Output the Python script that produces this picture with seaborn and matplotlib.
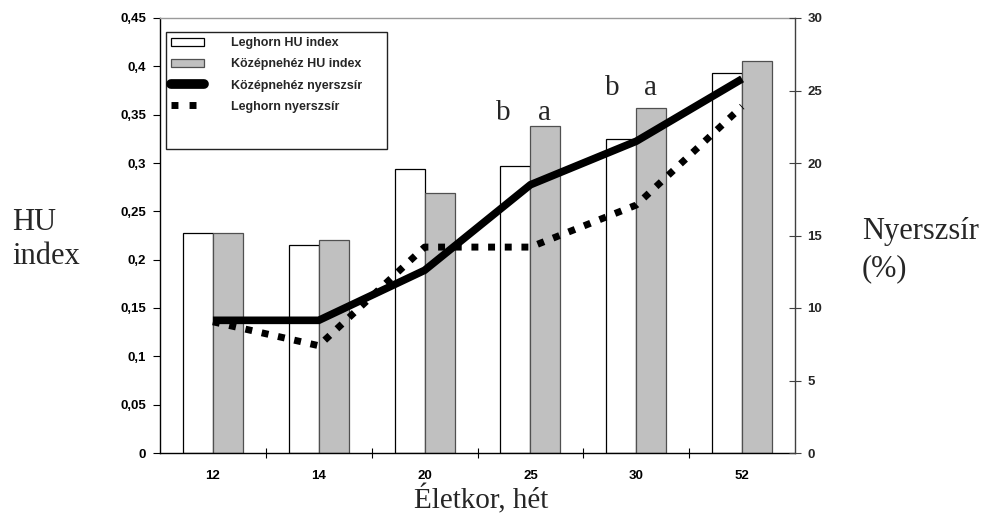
import numpy as np
import pandas as pd
import matplotlib
matplotlib.use("Agg")
import matplotlib.pyplot as plt
from matplotlib.patches import Patch, Rectangle
from matplotlib.lines import Line2D
import seaborn as sns

# Age in weeks
het = ["12", "14", "20", "25", "30", "52"]

# HU index per breed
leghorn_hu = [0.228, 0.215, 0.294, 0.297, 0.325, 0.393]
kozep_hu = [0.228, 0.220, 0.269, 0.338, 0.357, 0.405]

# Crude fat (%) per breed
kozep_zsir = [9.15, 9.15, 12.6, 18.5, 21.5, 25.8]
leghorn_zsir = [9.05, 7.4, 14.2, 14.2, 17.1, 23.9]

# Significance letters: (category index, offset, y on HU axis, letter)
betuk = [(3, -0.255, 0.352, "b"), (3, 0.13, 0.352, "a"),
         (4, -0.227, 0.378, "b"), (4, 0.13, 0.378, "a")]

sns.set_theme(style="white")
plt.rcParams["font.family"] = ["Liberation Sans", "DejaVu Sans"]

W, H = 986, 518
fig = plt.figure(figsize=(W / 100, H / 100), dpi=100)
fig.patch.set_facecolor("white")


def px(x, y):
    return (x / W, 1 - y / H)


ax = fig.add_axes([160 / W, 1 - 453 / H, 635 / W, 435 / H])
ax.set_facecolor("white")

df = pd.DataFrame({
    "het": het * 2,
    "hu": leghorn_hu + kozep_hu,
    "fajta": ["Leghorn HU index"] * len(het) + ["Középnehéz HU index"] * len(het),
})
sns.barplot(data=df, x="het", y="hu", hue="fajta",
            palette={"Leghorn HU index": "white", "Középnehéz HU index": "#C0C0C0"},
            width=0.567, ax=ax, legend=False, saturation=1)
for bar in ax.containers[0]:
    bar.set_edgecolor("black")
    bar.set_linewidth(0.9)
for bar in ax.containers[1]:
    bar.set_edgecolor("#505050")
    bar.set_linewidth(0.9)

ax.set_xlim(-0.5, 5.5)
ax.set_ylim(0, 0.45)
yt = np.round(np.arange(0, 0.451, 0.05), 2)
ax.set_yticks(yt)
ax.set_yticklabels(["0" if v == 0 else f"{v:g}".replace(".", ",") for v in yt])
ax.set_xlabel("")
ax.set_ylabel("")
ax.tick_params(axis="y", which="major", direction="out", length=5, width=0.8,
               color="black", pad=5, labelsize=9.5, left=True)
ax.tick_params(axis="x", which="major", length=0, pad=12, labelsize=9.5)
ax.set_xticks(np.arange(0.5, 5, 1), minor=True)
ax.tick_params(axis="x", which="minor", direction="inout", length=7, width=0.8,
               color="black", bottom=True)
for lab in ax.get_xticklabels() + ax.get_yticklabels():
    lab.set_fontweight("bold")
    lab.set_color("black")

for s in ["left", "bottom"]:
    ax.spines[s].set_color("black")
    ax.spines[s].set_linewidth(1.0)
ax.spines["top"].set_color("#9a9a9a")
ax.spines["top"].set_linewidth(1.0)
ax.spines["right"].set_visible(False)

ax2 = ax.twinx()
pos = np.arange(len(het))
sns.lineplot(x=pos, y=kozep_zsir, ax=ax2, color="black", linewidth=5.5,
             estimator=None, sort=False, solid_capstyle="butt",
             solid_joinstyle="miter")
sns.lineplot(x=pos, y=leghorn_zsir, ax=ax2, color="black", linewidth=5,
             estimator=None, sort=False, linestyle=(0, (1, 1.4)),
             dash_capstyle="butt")
ax2.set_ylim(0, 30)
ax2.set_xlim(-0.5, 5.5)
ax2.set_yticks(np.arange(0, 31, 5))
ax2.set_ylabel("")
ax2.tick_params(axis="y", direction="inout", length=8, width=0.8,
                color="#404040", pad=5, labelsize=9.5, right=True)
for lab in ax2.get_yticklabels():
    lab.set_fontweight("bold")
for s in ["left", "top", "bottom"]:
    ax2.spines[s].set_visible(False)
ax2.spines["right"].set_color("#404040")
ax2.spines["right"].set_linewidth(1.0)

serif = ["Liberation Serif", "DejaVu Serif"]
for i, off, y, t in betuk:
    ax.text(i + off, y, t, ha="center", va="center", fontsize=21, family=serif)

fig.text(*px(12, 222), "HU", ha="left", va="center", fontsize=22, family=serif)
fig.text(*px(12, 256), "index", ha="left", va="center", fontsize=22, family=serif)
fig.text(*px(862, 232), "Nyerszsír", ha="left", va="center", fontsize=22,
         family=serif)
fig.text(*px(862, 269), "(%)", ha="left", va="center", fontsize=22,
         family=serif)
fig.text(*px(481, 508), "Életkor, hét", ha="center", va="baseline", fontsize=21,
         family=serif)

# Legend box
x0, y0 = px(166, 149)
x1, y1 = px(387, 32)
fig.add_artist(Rectangle((x0, y0), x1 - x0, y1 - y0, transform=fig.transFigure,
                         facecolor="white", edgecolor="#222222", linewidth=1.0,
                         zorder=5))
handles = [
    Patch(facecolor="white", edgecolor="black", linewidth=0.9),
    Patch(facecolor="#C0C0C0", edgecolor="#505050", linewidth=0.9),
    Line2D([], [], color="black", linewidth=7, solid_capstyle="round"),
    Line2D([], [], color="black", linewidth=5, linestyle=(0, (1, 1.6)),
           dash_capstyle="butt"),
]
labels = ["Leghorn HU index", "Középnehéz HU index",
          "Középnehéz nyerszsír", "Leghorn nyerszsír"]
leg = fig.legend(handles, labels, loc="upper left", bbox_to_anchor=px(165, 31),
                 frameon=False, borderpad=0, handlelength=2.6,
                 handletextpad=2.2, labelspacing=0.73,
                 prop={"family": "Liberation Sans", "weight": "bold", "size": 9})
leg.set_zorder(6)

fig.savefig("out.png", dpi=100, facecolor="white")
